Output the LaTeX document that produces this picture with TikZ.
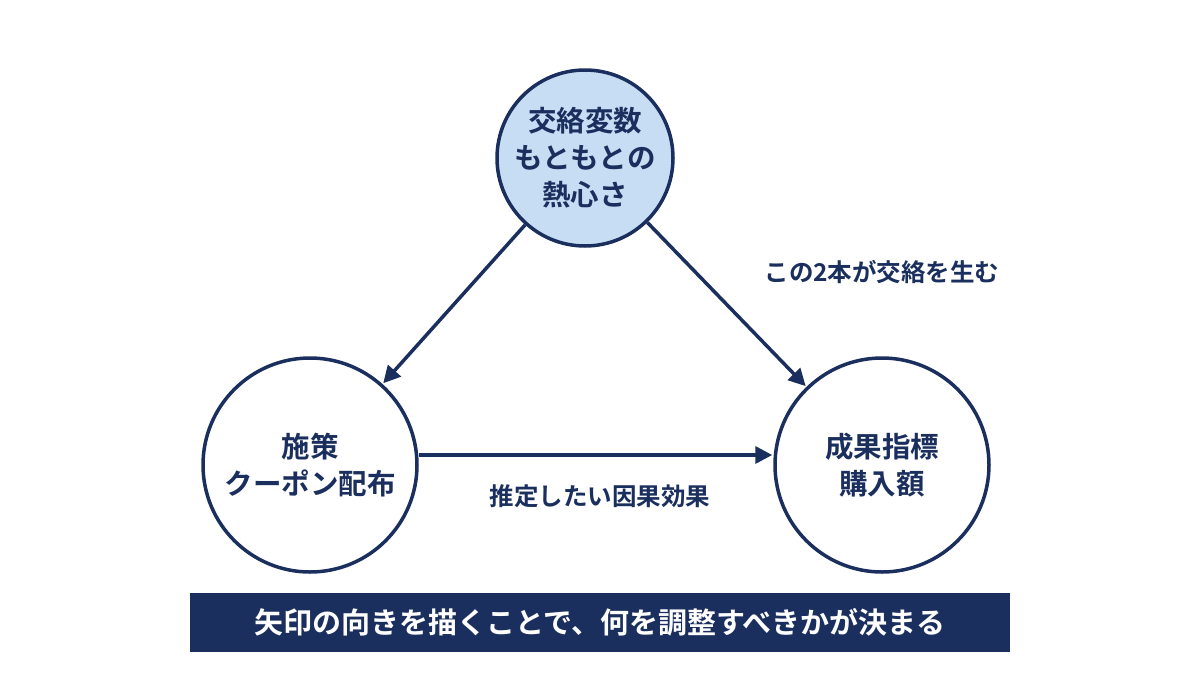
\documentclass[tikz,border=0pt]{standalone}
\usepackage{fontspec}
\setmainfont{Noto Sans CJK JP}[BoldFont={Noto Sans CJK JP Bold}]
\usetikzlibrary{arrows.meta}
\definecolor{navy}{HTML}{1B2F5E}
\definecolor{lblue}{HTML}{C6DDF4}
\begin{document}
\begin{tikzpicture}[x=1pt,y=-1pt,
  circ/.style={circle,draw=navy,line width=3.5pt,fill=white,align=center,text=navy,inner sep=0pt,font=\fontsize{28.5}{37}\selectfont\bfseries},
  arr/.style={draw=navy,line width=3.5pt,-{Triangle[length=17pt,width=17pt]},shorten >=1pt},
  lbl/.style={text=navy,font=\fontsize{24.5}{28}\selectfont\bfseries}]
\useasboundingbox (0,0) rectangle (1200,675);
\node[circ,fill=lblue,minimum size=176pt] (c) at (585,158) {交絡変数\\もともとの\\熱心さ};
\node[circ,minimum size=214pt] (t) at (310,465) {施策\\クーポン配布};
\node[circ,minimum size=214pt] (y) at (882,465) {成果指標\\購入額};
\draw[arr] (c) -- (t);
\draw[arr] (c) -- (y);
\draw[arr] (t.east |- 0,455) -- (y.west |- 0,455);
\node[lbl] (l1) at (882,272) {この2本が交絡を生む};
\node[lbl] (l2) at (600,496) {推定したい因果効果};
\node[fill=navy,text=white,minimum width=820pt,minimum height=59pt,font=\fontsize{29}{34}\selectfont\bfseries] (b) at (600,622) {矢印の向きを描くことで、何を調整すべきかが決まる};
\end{tikzpicture}
\end{document}
